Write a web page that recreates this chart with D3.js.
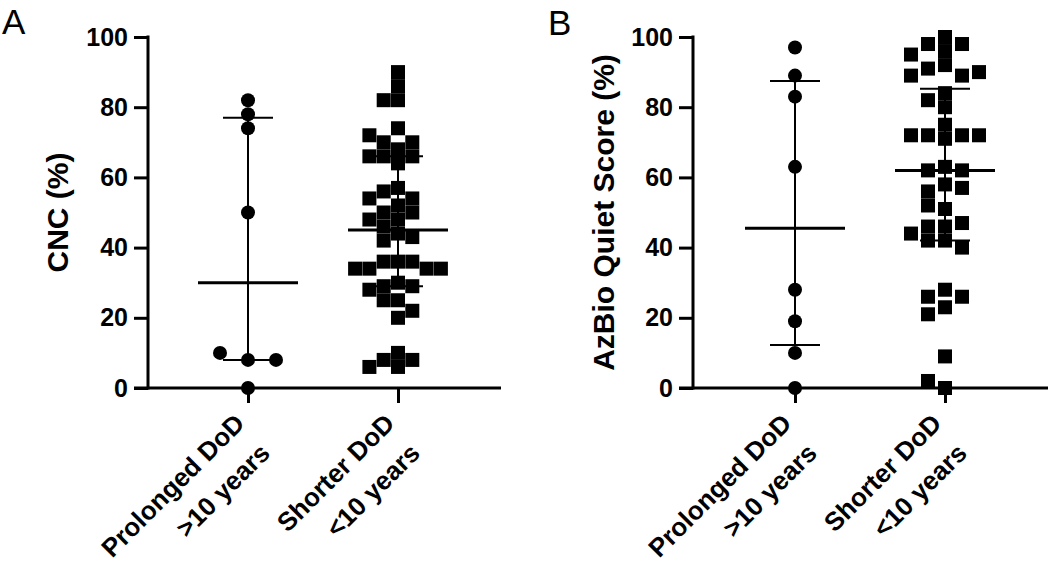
<!DOCTYPE html>
<html><head><meta charset="utf-8">
<script src="https://cdn.jsdelivr.net/npm/d3@7"></script>
<style>
body{margin:0;background:#fff}
svg{display:block}
text{font-family:"Liberation Sans",Arial,sans-serif;fill:#000}
</style>
</head><body>
<svg id="chart" width="1050" height="563"></svg>
<script>
// ---------------- DATA ----------------
const categories = ["Prolonged DoD >10 years", "Shorter DoD <10 years"];
const categoryLines = [["Prolonged DoD", ">10 years"], ["Shorter DoD", "<10 years"]];
const yTicks = [0, 20, 40, 60, 80, 100];
const panelLetters = ["A", "B"];
const yTitles = ["CNC (%)", "AzBio Quiet Score (%)"];

const cncProlonged = [82, 78, 74, 50, 8, 10, 8, 0];
const cncShorter = [90, 86, 82, 82, 68, 64, 66, 66, 66, 70, 70, 74, 72,
  57, 56, 54, 54, 52, 50, 50, 48, 48, 46, 44, 43, 42,
  36, 36, 36, 34, 34, 34, 34, 30, 29, 29, 28, 25, 25, 22, 20,
  10, 8, 8, 6, 6];
const azbioProlonged = [97, 89, 83, 63, 28, 19, 10, 0];
const azbioShorter = [100, 98, 98, 96, 95, 92, 91, 89, 89, 90, 84, 82, 80,
  75, 72, 72, 71, 72, 72, 63, 62, 62, 58, 56, 57, 51, 52,
  46, 46, 47, 44, 42, 42, 40, 28, 26, 26, 23, 21, 9, 0, 2];

// ---------------- LAYOUT ----------------
const svg = d3.select("#chart");
const Y0 = 388, Y100 = 37;
const y = d3.scaleLinear().domain([0, 100]).range([Y0, Y100]);

const panels = [
  {letter: panelLetters[0], title: yTitles[0], groups: [cncProlonged, cncShorter],
   left: 148, right: 501, x1: 248, x2: 398, letterX: 2, letterY: 34, titleX: 68,
   sqLane: 14.3, ciLane: 28},
  {letter: panelLetters[1], title: yTitles[1], groups: [azbioProlonged, azbioShorter],
   left: 693, right: 1048, x1: 795, x2: 945, letterX: 548, letterY: 35, titleX: 614,
   sqLane: 17, ciLane: 28}
];

const SYM = 14;

function quant(arr, p) {
  const s = arr.slice().sort((a, b) => a - b);
  const n = s.length, pos = p * (n + 1);
  if (pos <= 1) return s[0];
  if (pos >= n) return s[n - 1];
  const i = Math.floor(pos), f = pos - i;
  return s[i - 1] + f * (s[i] - s[i - 1]);
}

function swarm(values, lane) {
  const placed = [];
  return values.map(v => {
    const py = y(v);
    let off = 0;
    for (let k = 0; k < 60; k++) {
      const m = k === 0 ? 0 : (k % 2 ? -Math.ceil(k / 2) : Math.ceil(k / 2)) * 0.5;
      const o = m * lane;
      const hit = placed.some(p => Math.abs(p.o - o) < lane - 0.01 && Math.abs(p.py - py) < SYM * 0.95);
      if (!hit) { off = o; break; }
    }
    placed.push({o: off, py});
    return {v, off, py};
  });
}

panels.forEach(P => {
  const g = svg.append("g");
  const x = d3.scalePoint().domain(categories).range([P.x1, P.x2]);

  // panel letter
  g.append("text").attr("x", P.letterX).attr("y", P.letterY)
    .style("font-size", "35px").text(P.letter);

  // y axis
  const ya = g.append("g").attr("transform", `translate(${P.left},0)`)
    .call(d3.axisLeft(y).tickValues(yTicks).tickSize(14).tickSizeOuter(0).tickPadding(6));
  ya.select(".domain").remove();
  ya.selectAll(".tick line").attr("stroke", "#000").attr("stroke-width", 3);
  ya.selectAll(".tick text").style("font-size", "25px").style("font-weight", "bold")
    .style("font-family", "'Liberation Sans', Arial, sans-serif").attr("fill", "#000");
  g.append("line").attr("x1", P.left).attr("x2", P.left)
    .attr("y1", y(100) - 1.5).attr("y2", Y0 + 1.5)
    .attr("stroke", "#000").attr("stroke-width", 3);

  // x axis
  const xa = g.append("g").attr("transform", `translate(0,${Y0})`)
    .call(d3.axisBottom(x).tickSize(15).tickSizeOuter(0).tickFormat(""));
  xa.select(".domain").remove();
  xa.selectAll(".tick line").attr("stroke", "#000").attr("stroke-width", 3);
  g.append("line").attr("x1", P.left - 14).attr("x2", P.right)
    .attr("y1", Y0).attr("y2", Y0)
    .attr("stroke", "#000").attr("stroke-width", 3);

  // category labels
  categories.forEach((c, i) => {
    const t = g.append("text")
      .attr("transform", `translate(${x(c) - 2},${Y0 + 37}) rotate(-45)`)
      .attr("text-anchor", "end")
      .style("font-size", "26px").style("font-weight", "bold");
    t.append("tspan").attr("x", 0).attr("y", 0).text(categoryLines[i][0]);
    t.append("tspan").attr("x", -3).attr("y", 39).text(categoryLines[i][1]);
  });

  // y title
  g.append("text")
    .attr("transform", `translate(${P.titleX},${(Y0 + Y100) / 2}) rotate(-90)`)
    .attr("text-anchor", "middle")
    .style("font-size", "30px").style("font-weight", "bold")
    .text(P.title);

  // points
  P.groups.forEach((vals, gi) => {
    const cx = x(categories[gi]);
    if (gi === 0) {
      const pts = swarm(vals, P.ciLane);
      g.selectAll(null).data(pts).enter().append("circle")
        .attr("cx", d => cx + d.off).attr("cy", d => d.py)
        .attr("r", SYM / 2).attr("fill", "#000");
    } else {
      const pts = swarm(vals, P.sqLane);
      g.selectAll(null).data(pts).enter().append("rect")
        .attr("x", d => cx + d.off - SYM / 2).attr("y", d => d.py - SYM / 2)
        .attr("width", SYM).attr("height", SYM).attr("fill", "#000");
    }
    // median + IQR
    const med = quant(vals, 0.5), q1 = quant(vals, 0.25), q3 = quant(vals, 0.75);
    g.append("line").attr("x1", cx).attr("x2", cx).attr("y1", y(q1)).attr("y2", y(q3))
      .attr("stroke", "#000").attr("stroke-width", 2);
    [q1, q3].forEach(q => g.append("line").attr("x1", cx - 25).attr("x2", cx + 25)
      .attr("y1", y(q)).attr("y2", y(q)).attr("stroke", "#000").attr("stroke-width", 2));
    g.append("line").attr("x1", cx - 50).attr("x2", cx + 50)
      .attr("y1", y(med)).attr("y2", y(med)).attr("stroke", "#000").attr("stroke-width", 3);
  });
});
</script>
</body></html>
